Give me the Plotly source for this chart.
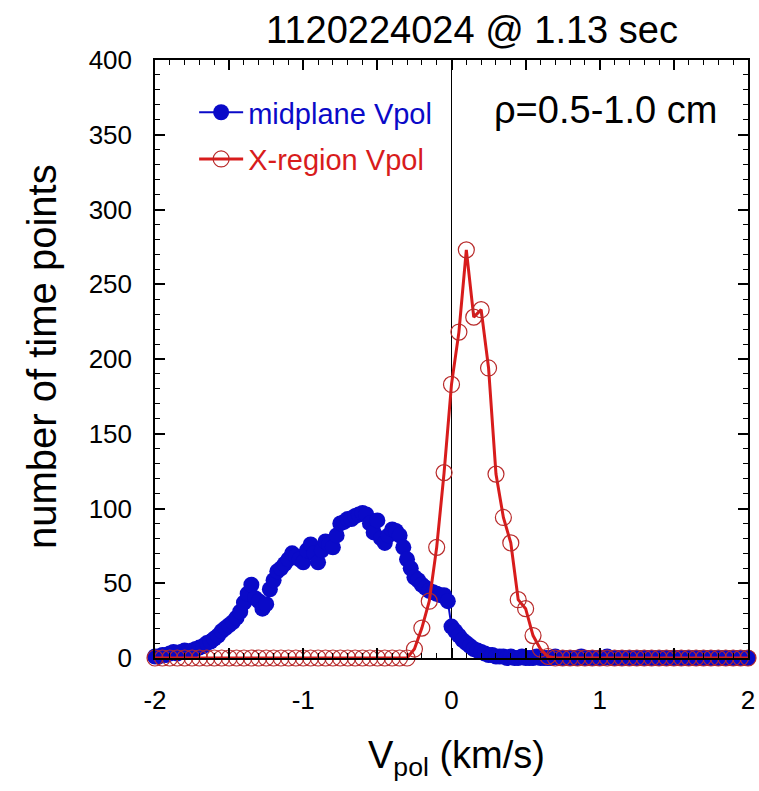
import numpy as np
import plotly.graph_objects as go

# ---------------- data ----------------
blue_start, blue_step = -2.0, 0.025
blue_counts = [
    1, 1, 2, 2, 3, 4, 3, 4, 5, 4,
    5, 6, 7, 8, 10, 11, 13, 15, 18, 20,
    22, 24, 27, 31, 37, 43, 49, 40, 38, 33,
    36, 46, 52, 58, 60, 63, 66, 70, 68, 66,
    64, 72, 76, 70, 64, 72, 78, 76, 74, 82,
    90, 91, 93, 93, 95, 96, 97, 96, 90, 84,
    92, 80, 77, 82, 86, 85, 82, 74, 66, 60,
    54, 52, 49, 47, 45, 44, 43, 42, 42, 38,
    21, 18, 15, 12, 10, 8, 6, 5, 4, 3,
    2, 2, 1, 1, 1, 0, 1, 0, 0, 1,
    0, 0, 0, 1, 0, 0, 0, 0, 1, 0,
    0, 0, 0, 0, 0, 1, 0, 0, 0, 0,
    0, 0, 1, 0, 0, 0, 0, 0, 0, 0,
    0, 0, 0, 0, 0, 0, 0, 0, 0, 0,
    0, 0, 0, 0, 0, 0, 0, 0, 0, 0,
    0, 0, 0, 0, 0, 0, 0, 0, 0, 0,
    0,
]
red_start, red_step = -2.0, 0.05
red_counts = [
    0, 0, 0, 0, 0, 0, 0, 0, 0, 0,
    0, 0, 0, 0, 0, 0, 0, 0, 0, 0,
    0, 0, 0, 0, 0, 0, 0, 0, 0, 0,
    0, 0, 0, 0, 0, 6, 20, 38, 74, 124,
    183, 218, 273, 228, 233, 194, 123, 94, 77, 39,
    33, 15, 6, 1, 0, 0, 0, 0, 0, 0,
    0, 0, 0, 0, 0, 0, 0, 0, 0, 0,
    0, 0, 0, 0, 0, 0, 0, 0, 0, 0,
    0,
]
x_tickvals = [-2, -1, 0, 1, 2]
x_ticktext = ["-2", "-1", "0", "1", "2"]
x_halfticks = [-1.5, -0.5, 0.5, 1.5]
y_tickvals = [0, 50, 100, 150, 200, 250, 300, 350, 400]
y_ticktext = ["0", "50", "100", "150", "200", "250", "300", "350", "400"]

blue_x = blue_start + blue_step * np.arange(len(blue_counts))
red_x = red_start + red_step * np.arange(len(red_counts))

BLUE = "#0a0ac8"
RED = "#d81c1c"
FONT = "Liberation Sans, Arial, sans-serif"

fig = go.Figure()
fig.add_trace(go.Scatter(
    x=blue_x, y=blue_counts, mode="lines+markers",
    name=f"<span style='color:{BLUE}'>midplane Vpol</span>",
    line=dict(color=BLUE, width=2),
    marker=dict(symbol="circle", size=16, color=BLUE, line=dict(width=0)),
    cliponaxis=False, legendgroup="a",
))
fig.add_trace(go.Scatter(
    x=red_x, y=red_counts, mode="lines+markers",
    name=f"<span style='color:{RED}'>X-region Vpol</span>",
    line=dict(color=RED, width=3),
    marker=dict(symbol="circle-open", size=16, color="#b82a2a", line=dict(width=1.2)),
    cliponaxis=False, legendgroup="b",
))
# invisible helper trace so the half-unit tick axis is drawn
fig.add_trace(go.Scatter(x=[-2, 2], y=[0, 0], xaxis="x2", mode="lines",
                         line=dict(width=0), showlegend=False, hoverinfo="skip"))

axis_common = dict(
    showline=True, linecolor="black", linewidth=1.5, mirror="ticks",
    ticks="inside", ticklen=10, tickwidth=1.5, tickcolor="black",
    showgrid=False, automargin=False,
    tickfont=dict(family=FONT, size=26, color="black"),
)
fig.update_layout(
    xaxis=dict(
        range=[-2, 2], tickvals=x_tickvals, ticktext=x_ticktext,
        zeroline=True, zerolinecolor="black", zerolinewidth=1,
        minor=dict(dtick=0.1, ticks="inside", ticklen=5, tickcolor="black", tickwidth=1),
        ticklabelstandoff=18,
        **axis_common,
    ),
    xaxis2=dict(
        range=[-2, 2], tickvals=x_halfticks, overlaying="x", anchor="y", side="bottom",
        showticklabels=False, zeroline=False, showgrid=False, automargin=False,
        showline=False, mirror="ticks",
        ticks="inside", ticklen=10, tickwidth=1.5, tickcolor="black",
    ),
    yaxis=dict(
        range=[0, 400], tickvals=y_tickvals, ticktext=y_ticktext,
        zeroline=False,
        minor=dict(dtick=10, ticks="inside", ticklen=5, tickcolor="black", tickwidth=1),
        ticklabelstandoff=16,
        **axis_common,
    ),
)

fig.update_layout(
    width=759, height=791,
    margin=dict(l=155, r=11, t=60, b=133),
    paper_bgcolor="white", plot_bgcolor="white",
    font=dict(family=FONT, color="black"),
    title=dict(text="1120224024 @ 1.13 sec", xref="paper", x=(472 - 155) / 593,
               xanchor="center", y=1 - 30 / 791, yanchor="middle",
               font=dict(size=38, color="black")),
    legend=dict(x=0.066, y=0.955, xanchor="left", yanchor="top",
                bgcolor="rgba(0,0,0,0)", borderwidth=0,
                font=dict(size=29, family=FONT), traceorder="grouped",
                tracegroupgap=6, itemwidth=44),
    showlegend=True,
    annotations=[
        dict(text="\u03c1=0.5-1.0 cm", xref="paper", yref="paper",
             x=(605 - 155) / 593, y=(658 - 110) / 598, xanchor="center", yanchor="middle",
             showarrow=False, font=dict(size=38, color="black")),
        dict(text="number of time points", xref="paper", yref="paper",
             x=(42 - 155) / 593, y=(658 - 357) / 598, xanchor="center", yanchor="middle",
             textangle=-90, showarrow=False, font=dict(size=40, color="black")),
        dict(text="V<sub>pol</sub> (km/s)", xref="paper", yref="paper",
             x=(457 - 155) / 593, y=(658 - 758) / 598, xanchor="center", yanchor="middle",
             showarrow=False, font=dict(size=38, color="black")),
    ],
)

fig.write_html("out.html", post_script="document.body.style.margin='0';",
               config={"displayModeBar": False})
